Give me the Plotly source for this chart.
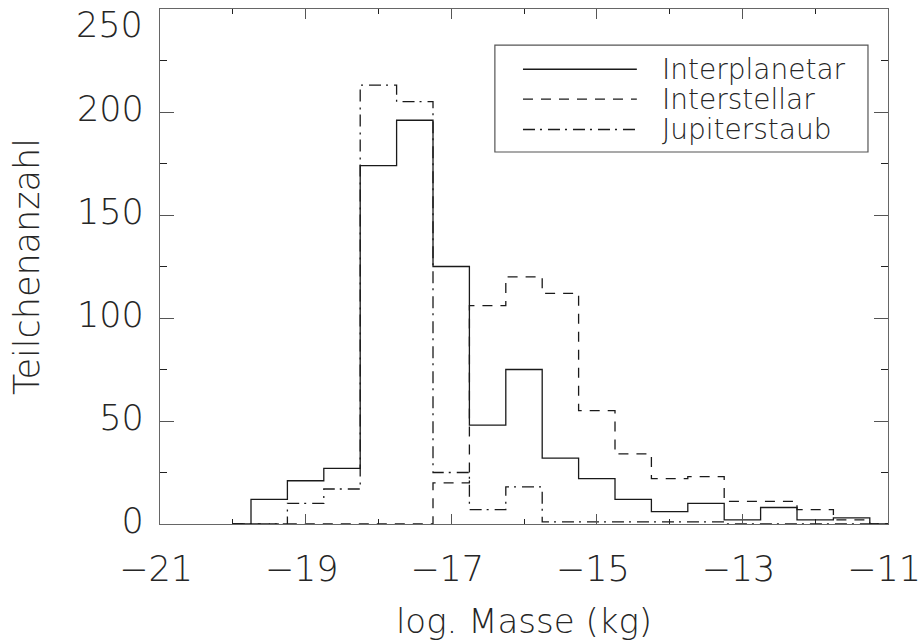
import plotly.graph_objects as go

# Histogram bin centres (log10 of particle mass in kg), bin width 0.5
mass_bins = [-20.0, -19.5, -19.0, -18.5, -18.0, -17.5, -17.0, -16.5, -16.0, -15.5,
             -15.0, -14.5, -14.0, -13.5, -13.0, -12.5, -12.0, -11.5, -11.0]

# Particle counts per bin
interplanetar = [0, 12, 21, 27, 174, 196, 125, 48, 75, 32, 22, 12, 6, 10, 2, 8, 2, 3, 0]
interstellar = [0, 0, 0, 0, 0, 0, 20, 106, 120, 112, 55, 34, 22, 23, 11, 11, 7, 2, 0]
jupiterstaub = [0, 0, 10, 17, 213, 205, 25, 7, 18, 1, 1, 1, 1, 1, 0, 0, 0, 0, 0]

series_names = ["Interplanetar", "Interstellar", "Jupiterstaub"]
series_values = [interplanetar, interstellar, jupiterstaub]
series_dash = ["solid", "10px,8px", "12px,5px,2px,6px"]

x_tick_vals = [-21, -19, -17, -15, -13, -11]
x_tick_text = ["\u221221", "\u221219", "\u221217", "\u221215", "\u221213", "\u221211"]
y_tick_vals = [0, 50, 100, 150, 200]
y_top = 250

FONT = "DejaVu Sans"
INK = "#1a1a1a"
TEXT = "#262626"

fig = go.Figure()
for name, vals, dash in zip(series_names, series_values, series_dash):
    fig.add_trace(go.Scatter(
        x=mass_bins, y=vals, name=name, mode="lines",
        line=dict(shape="hvh", color=INK, width=1.3, dash=dash),
        showlegend=False,
    ))

axis_common = dict(
    showgrid=False, zeroline=False, showline=True, linecolor="#666", linewidth=1.2,
    mirror="ticks", ticks="inside", tickcolor="#555", ticklabeloverflow="allow",
    automargin=False,
    tickfont=dict(family=FONT, size=35, color=TEXT, weight=200),
)

fig.update_xaxes(
    range=[-21, -11], tickvals=x_tick_vals, ticktext=x_tick_text, ticklen=10, tickwidth=1.2,
    minor=dict(dtick=1, ticks="inside", ticklen=5, tickcolor="#222", tickwidth=1.2),
    ticklabelstandoff=14, ticklabelshift=-4,
    title=dict(text="log. Masse (kg)", font=dict(family=FONT, size=34, color=TEXT, weight=200),
               standoff=25),
    **axis_common,
)
fig.update_yaxes(
    range=[0, y_top], tickvals=y_tick_vals, ticklen=14, tickwidth=1.2,
    minor=dict(dtick=25, ticks="inside", ticklen=7, tickcolor="#222", tickwidth=1.2),
    ticklabelstandoff=8, ticklabelshift=-3,
    title=dict(text="Teilchenanzahl", font=dict(family=FONT, size=35, color=TEXT, weight=200),
               standoff=26),
    **axis_common,
)

# Top y label sits just below the upper frame so it stays inside the page
fig.add_annotation(xref="paper", yref="y", x=0, y=y_top, text=str(y_top), showarrow=False,
                   xanchor="right", yanchor="top", xshift=-15, yshift=6,
                   font=dict(family=FONT, size=35, color=TEXT, weight=200))

# Legend: framed box with long line samples
fig.add_shape(type="rect", xref="paper", yref="paper", x0=0.460, x1=0.9725, y0=0.7223, y1=0.930,
              line=dict(color="#555", width=1.2), fillcolor="white", layer="above")
row_y = [0.883, 0.825, 0.766]
for name, dash, ry in zip(series_names, series_dash, row_y):
    fig.add_shape(type="line", xref="paper", yref="paper", x0=0.4986, x1=0.655, y0=ry, y1=ry,
                  line=dict(color=INK, width=1.3, dash=dash), layer="above")
    fig.add_annotation(xref="paper", yref="paper", x=0.6868, y=ry, text=name, showarrow=False,
                       xanchor="left", yanchor="middle",
                       font=dict(family=FONT, size=28, color=TEXT, weight=200))

fig.update_layout(
    width=922, height=641,
    margin=dict(l=160, r=34, t=9, b=117),
    paper_bgcolor="white", plot_bgcolor="white",
)

fig.write_html("out.html")
